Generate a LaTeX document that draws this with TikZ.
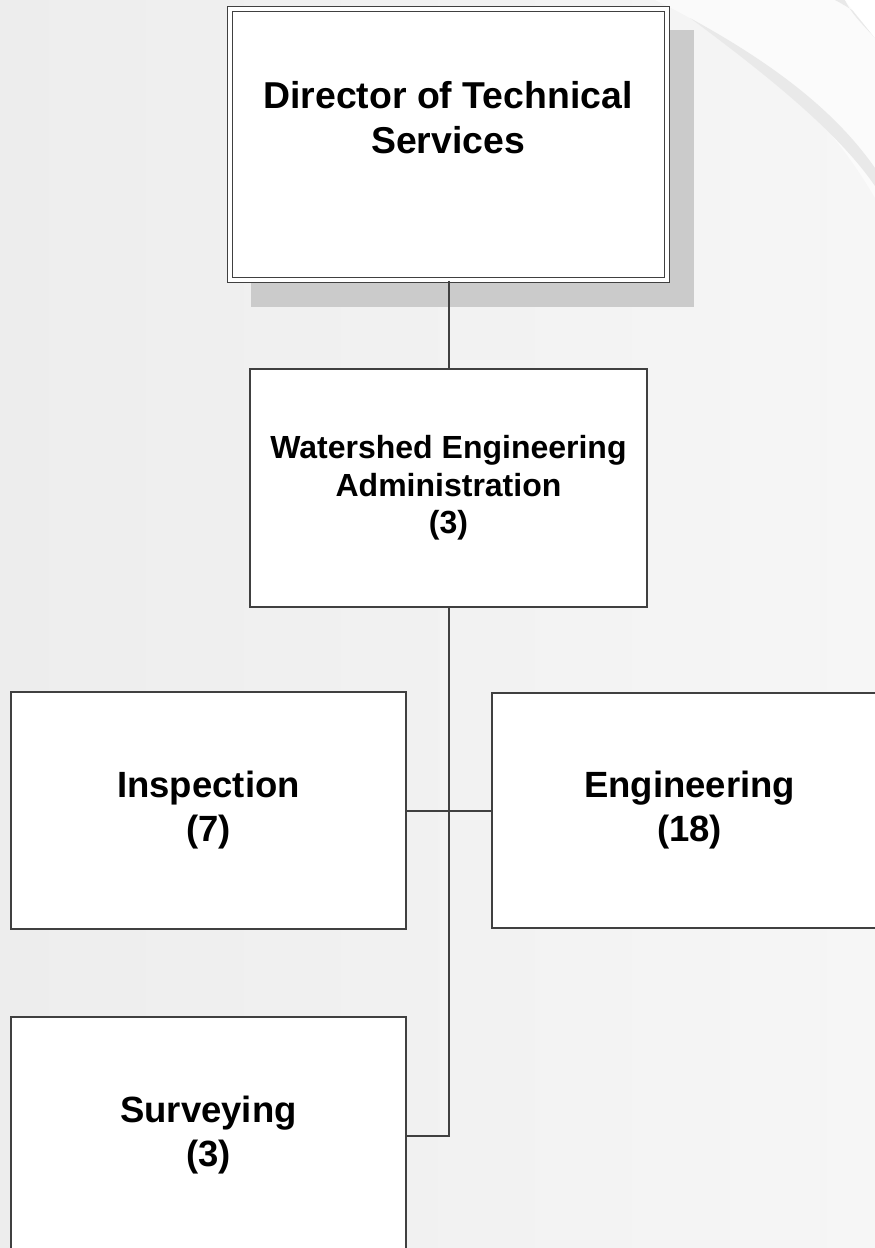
\documentclass[tikz,border=0pt]{standalone}
\usepackage{fontspec}
\setmainfont{Liberation Sans}
\usetikzlibrary{calc}
\definecolor{linegray}{HTML}{404040}
\definecolor{shadowgray}{HTML}{CBCBCB}
\definecolor{bgleft}{HTML}{EDEDED}
\definecolor{bgright}{HTML}{F6F6F6}
\definecolor{streak}{HTML}{E9E9E9}
\begin{document}
\begin{tikzpicture}[x=1pt,y=-1pt,
  orgbox/.style={draw=linegray, line width=1.5pt, fill=white, inner sep=0pt,
    align=center, minimum width=395pt, minimum height=237pt,
    font=\fontsize{36.5}{44}\selectfont\bfseries},
  topbox/.style={draw=linegray, line width=1.5pt, double=white, double distance=3.5pt,
    fill=white, inner sep=0pt, minimum width=437pt, minimum height=271pt},
  toptext/.style={align=center, inner sep=0pt, font=\fontsize{37.4}{45}\selectfont\bfseries},
  wsbox/.style={orgbox, minimum width=397pt, minimum height=238pt,
    font=\fontsize{32}{37.5}\selectfont\bfseries},
  conn/.style={draw=linegray, line width=2pt}
]
\useasboundingbox (0,0) rectangle (875,1248);
\begin{scope}
\clip (0,0) rectangle (875,1248);
% background
\shade[left color=bgleft, right color=bgright] (0,0) rectangle (875,1248);
\fill[white, opacity=0.6] (655,0) .. controls (760,50) and (830,120) .. (875,198) -- (875,0) -- cycle;
\fill[streak] (690,18) .. controls (785,70) and (840,118) .. (875,168) -- (875,186) .. controls (842,138) and (782,86) .. (690,18) -- cycle;
\fill[streak] (835,0) .. controls (850,8) and (865,18) .. (875,28) -- (875,38) .. controls (862,24) and (850,12) .. (845,0) -- cycle;
\fill[white] (845,0) .. controls (852,10) and (864,24) .. (875,38) -- (875,0) -- cycle;
% shadow of the top box
\fill[shadowgray] (251,30) rectangle (694,307);
% boxes
\node[topbox] (dir) at (448.5,144.5) {};
\node[toptext] (dirtext) at (448,118) {Director of Technical\\Services};
\node[wsbox] (ws) at (448.5,488) {Watershed Engineering\\Administration\\(3)};
\node[orgbox] (insp) at (208.5,810.5) {Inspection\\(7)};
\node[orgbox, minimum height=235pt] (eng) at (689.5,810.5) {Engineering\\(18)};
\node[orgbox] (surv) at (208.5,1135.5) {Surveying\\(3)};
% connectors
\coordinate (j2) at (ws.south |- surv.east);
\draw[conn] (dir.south) -- (ws.north);
\draw[conn] (ws.south) -- (j2) -- (surv.east);
\draw[conn] (insp.east) -- (eng.west);
\end{scope}
\end{tikzpicture}
\end{document}
